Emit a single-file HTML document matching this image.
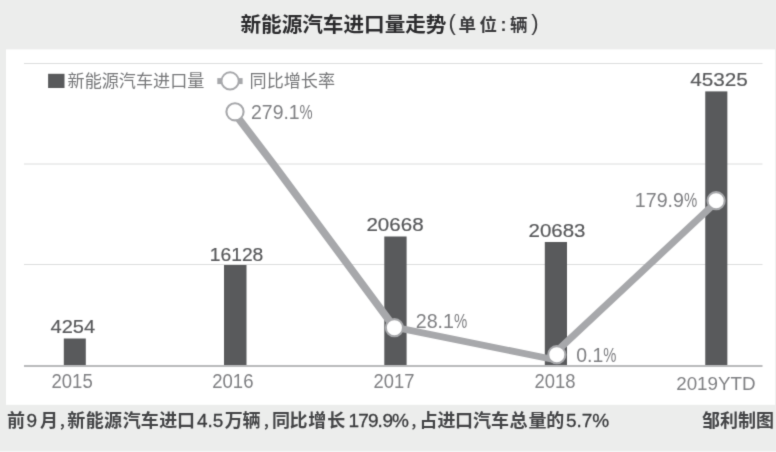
<!DOCTYPE html>
<html lang="zh-CN">
<head>
<meta charset="utf-8">
<title>新能源汽车进口量走势</title>
<style>
html,body{margin:0;padding:0;background:#ecedec;}
body{width:776px;height:452px;overflow:hidden;}
svg{display:block;}
text{font-family:"Liberation Sans","Noto Sans CJK SC",sans-serif;}
.val{font-size:19.4px;fill:#595a5c;stroke:#595a5c;stroke-width:0.2px;}
.pct{font-size:19.4px;fill:#808184;}
.yr{font-size:19.4px;fill:#808184;}
.lg{font-size:17.1px;fill:#77787a;font-weight:400;}
.cap{font-size:18px;fill:#444547;font-weight:700;}
.cm{font-size:14px;}
.d{font-size:19px;font-weight:400;fill:#3a3b3d;stroke:#3a3b3d;stroke-width:0.3px;}
</style>
</head>
<body>
<svg width="776" height="452" viewBox="0 0 776 452">
  <defs>
    <filter id="soft" x="0" y="0" width="776" height="452" filterUnits="userSpaceOnUse" color-interpolation-filters="sRGB">
      <feConvolveMatrix order="3" kernelMatrix="1 6 1 6 36 6 1 6 1" divisor="64" edgeMode="duplicate" preserveAlpha="true"/>
    </filter>
  </defs>
  <g filter="url(#soft)">
  <rect x="0" y="0" width="776" height="452" fill="#ecedec"/>
  <rect x="0" y="450.8" width="776" height="1.2" fill="#f5f6f6"/>
  <rect x="6" y="49.4" width="769.1" height="355.4" fill="#ffffff"/>

  <!-- title -->
  <text x="240.5" y="31.5" font-size="20.6" font-weight="700" fill="#2b2b2d">新能源汽车进口量走势</text>
  <text y="31" font-size="17.5" font-weight="700" fill="#3a3a3c"><tspan x="448.6" y="30.3" font-size="22" font-weight="400">(</tspan><tspan x="458.5 479.5" y="31">单位</tspan><tspan x="500.4" y="30.8" font-size="18">:</tspan><tspan x="510" y="31">辆</tspan><tspan x="531.3" y="30.3" font-size="22" font-weight="400">)</tspan></text>

  <!-- grid -->
  <g stroke="#dcdddd" stroke-width="1">
    <line x1="24" y1="63.5" x2="762.5" y2="63.5"/>
    <line x1="24" y1="164" x2="762.5" y2="164"/>
    <line x1="24" y1="264.5" x2="762.5" y2="264.5"/>
  </g>

  <!-- bars -->
  <g fill="#595a5c">
    <rect x="63.8" y="338.5" width="22" height="27.5"/>
    <rect x="224" y="265" width="22.5" height="101"/>
    <rect x="384.3" y="236.5" width="22.3" height="129.5"/>
    <rect x="544.8" y="242" width="22.2" height="124"/>
    <rect x="705.25" y="91.4" width="22.1" height="274.6"/>
  </g>
  <line x1="24" y1="366" x2="762.5" y2="366" stroke="#b9babc" stroke-width="2.2"/>

  <!-- line -->
  <g fill="none" stroke="#a7a8ab" stroke-linecap="round" stroke-linejoin="round">
    <polyline points="233.6,112 273.4,164.2 394.2,327.2" stroke-width="7.6"/>
    <line x1="394.2" y1="327.2" x2="556" y2="360" stroke-width="6.8"/>
    <line x1="556.6" y1="351.4" x2="716" y2="202.2" stroke-width="7"/>
  </g>
  <g fill="#ffffff" stroke="#a7a8ab" stroke-width="2.1">
    <circle cx="235" cy="111.8" r="8.6"/>
    <circle cx="394.4" cy="327.7" r="8.6"/>
    <circle cx="556.8" cy="354.7" r="8.6"/>
    <circle cx="716.1" cy="200.7" r="8.6"/>
  </g>

  <!-- legend -->
  <rect x="48.1" y="73.8" width="16.4" height="14.2" fill="#595a5c"/>
  <text x="67.6" y="87" class="lg">新能源汽车进口量</text>
  <line x1="217.3" y1="81.1" x2="242.6" y2="81.1" stroke="#a7a8ab" stroke-width="6"/>
  <circle cx="230.1" cy="80.9" r="8.6" fill="#fff" stroke="#a7a8ab" stroke-width="1.9"/>
  <text x="249.6" y="87.4" class="lg">同比增长率</text>

  <!-- values -->
  <text class="val" transform="translate(50.56 332.70) scale(1.034 0.980)">4254</text>
  <text class="val" transform="translate(209.78 260.90) scale(0.993 0.987)">16128</text>
  <text class="val" transform="translate(366.42 230.60) scale(1.060 0.987)">20668</text>
  <text class="val" transform="translate(528.53 236.60) scale(1.056 0.987)">20683</text>
  <text class="val" transform="translate(690.25 85.50) scale(1.069 0.987)">45325</text>

  <!-- pct -->
  <text class="pct" transform="translate(251.05 119.42) scale(1.001 1.013)">279.1<tspan textLength="13.1" lengthAdjust="spacingAndGlyphs">%</tspan></text>
  <text class="pct" transform="translate(415.74 328.22) scale(1.013 1.028)">28.1<tspan textLength="13.1" lengthAdjust="spacingAndGlyphs">%</tspan></text>
  <text class="pct" transform="translate(576.20 362.22) scale(1.001 1.042)">0.1<tspan textLength="13.1" lengthAdjust="spacingAndGlyphs">%</tspan></text>
  <text class="pct" transform="translate(634.83 206.52) scale(1.011 1.050)">179.9<tspan textLength="13.1" lengthAdjust="spacingAndGlyphs">%</tspan></text>

  <!-- years -->
  <text class="yr" transform="translate(51.50 387.72) scale(0.955 1.035)">2015</text>
  <text class="yr" transform="translate(212.29 387.72) scale(0.955 1.035)">2016</text>
  <text class="yr" transform="translate(373.50 387.92) scale(0.948 1.050)">2017</text>
  <text class="yr" transform="translate(534.50 387.72) scale(0.950 1.035)">2018</text>
  <text class="yr" transform="translate(676.18 390.03) scale(0.970 0.983)">2019YTD</text>

  <!-- caption -->
  <text y="427.2" class="cap"><tspan x="7.1">前</tspan><tspan class="d" x="26.6">9</tspan><tspan x="40">月</tspan><tspan class="cm" x="58.4">，</tspan><tspan x="67.2 85.7 104 122.8 140.7 159.2 176.9">新能源汽车进口</tspan><tspan class="d" x="197 207.6 212.8">4.5</tspan><tspan x="224.8 242.4">万辆</tspan><tspan class="cm" x="262.5">，</tspan><tspan x="271.9 289.5 308.2 327.2">同比增长</tspan><tspan class="d" x="348.6 358.3 367.9 377.6 382.4 392.1">179.9%</tspan><tspan class="cm" x="410">，</tspan><tspan x="419.5 437.6 455 473 491 509.4 528.5 546.3">占进口汽车总量的</tspan><tspan class="d" x="566.1 576.6 581.8 592.2">5.7%</tspan></text>
  <text y="427.2" class="cap" x="701.9 719.9 737.9 755.9">邹利制图</text>
  </g>
</svg>
</body>
</html>
